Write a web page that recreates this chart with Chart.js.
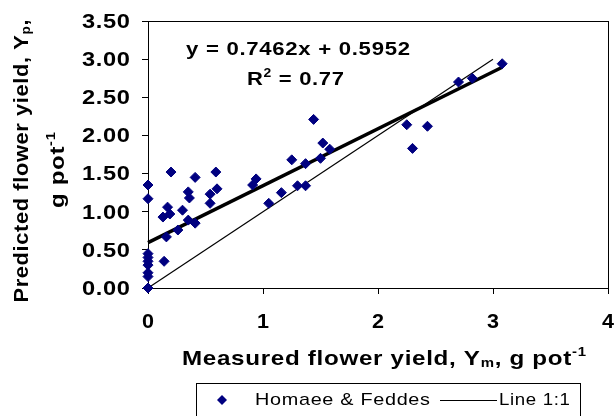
<!DOCTYPE html>
<html>
<head>
<meta charset="utf-8">
<script src="https://cdn.jsdelivr.net/npm/chart.js@4.4.1/dist/chart.umd.min.js"></script>
<style>
html,body{margin:0;padding:0;background:#fff;}
#wrap{width:614px;height:416px;position:relative;}
</style>
</head>
<body>
<div id="wrap"><canvas id="c" width="614" height="416"></canvas></div>
<script>
// ---- data ----
const measured  = [0,0,0,0,0,0,0,0,0, 0.14,0.16,0.13,0.17,0.19,0.20,0.26,0.30,0.35,0.41,0.35,0.36,0.41,0.54,0.54,0.59,0.60,0.91,0.94,1.05,1.16,1.25,1.30,1.37,1.37,1.50,1.44,1.52,1.58,2.25,2.30,2.43,2.70,2.82,3.08];
const predicted = [0,0.15,0.20,0.30,0.35,0.40,0.45,1.17,1.35, 0.35,0.67,0.93,1.06,0.97,1.52,0.76,1.02,0.89,0.85,1.26,1.18,1.45,1.23,1.11,1.52,1.30,1.35,1.43,1.11,1.25,1.68,1.34,1.34,1.63,1.70,2.21,1.90,1.82,2.14,1.83,2.12,2.70,2.75,2.94];
const fitSlope = 0.7462;
const fitIntercept = 0.5952;
const fitRange = [0, 3.08];
const oneToOneRange = [0, 3];
const xTicks = [0,1,2,3,4];
const yTicks = [0,0.5,1,1.5,2,2.5,3,3.5];
const seriesName = 'Homaee & Feddes';
const lineName = 'Line 1:1';

const fitData = fitRange.map(x => ({x: x, y: fitSlope * x + fitIntercept}));
const oneData = oneToOneRange.map(x => ({x: x, y: x}));
const pts = measured.map((x, i) => ({x: x, y: predicted[i]}));

const NAVY = '#000080';
const FONT = '"Liberation Sans", Arial, sans-serif';
const LS = 0.6; // small letter spacing

function runsNatural(ctx, runs) {
  let w = 0, n = 0;
  ctx.letterSpacing = LS + 'px';
  for (const r of runs) { ctx.font = r.font; w += ctx.measureText(r.t).width; n += [...r.t].length; }
  return w - LS;
}
// draw runs at (x,y) baseline, stretched along the text direction to a target width
function drawRuns(ctx, runs, x, y, target, align) {
  const nat = runsNatural(ctx, runs);
  const sx = target ? target / nat : 1;
  const total = nat * sx;
  let cx = x;
  if (align === 'center') cx = x - total / 2;
  else if (align === 'right') cx = x - total;
  ctx.save();
  ctx.translate(cx, y);
  ctx.scale(sx, 1);
  ctx.letterSpacing = LS + 'px';
  let px = 0;
  for (const r of runs) {
    ctx.font = r.font;
    ctx.fillText(r.t, px, (r.dy || 0));
    px += ctx.measureText(r.t).width;
  }
  ctx.restore();
}

const textPlugin = {
  id: 'texts',
  beforeDatasetsDraw(chart) {
    const ctx = chart.ctx, a = chart.chartArea;
    ctx.save();
    ctx.strokeStyle = '#000';
    ctx.lineWidth = 1;
    ctx.strokeRect(Math.round(a.left) + 0.5, Math.round(a.top) + 0.5, Math.round(a.right - a.left), Math.round(a.bottom - a.top));
    ctx.restore();
  },
  afterDraw(chart) {
    const ctx = chart.ctx;
    const xs = chart.scales.x, ys = chart.scales.y;
    ctx.save();
    ctx.fillStyle = '#000';
    ctx.textBaseline = 'middle';
    const B = s => 'bold ' + s + 'px ' + FONT;
    const R = s => s + 'px ' + FONT;
    // y tick labels
    for (const v of yTicks) {
      drawRuns(ctx, [{t: v.toFixed(2), font: B(21)}], 130, ys.getPixelForValue(v) + 1, 48, 'right');
    }
    // x tick labels
    for (const v of xTicks) {
      drawRuns(ctx, [{t: String(v), font: B(21)}], xs.getPixelForValue(v), 322, 12, 'center');
    }
    ctx.textBaseline = 'alphabetic';
    // x title
    drawRuns(ctx, [
      {t: 'Measured flower yield, Y', font: B(21)},
      {t: 'm', font: B(13), dy: 2},
      {t: ', g pot', font: B(21)},
      {t: '-1', font: B(13), dy: -9}
    ], 182, 365, 404, 'left');
    // y title (rotated)
    ctx.save();
    ctx.translate(28, 161);
    ctx.rotate(-Math.PI / 2);
    drawRuns(ctx, [
      {t: 'Predicted flower yield, Y', font: B(21)},
      {t: 'p', font: B(13), dy: 2},
      {t: ',', font: B(21)}
    ], 0, 0, 283, 'center');
    ctx.restore();
    ctx.save();
    ctx.translate(64, 170);
    ctx.rotate(-Math.PI / 2);
    drawRuns(ctx, [
      {t: 'g pot', font: B(21)},
      {t: '-1', font: B(13), dy: -9}
    ], 0, 0, 76, 'center');
    ctx.restore();
    // equation
    drawRuns(ctx, [{t: 'y = ' + fitSlope.toFixed(4) + 'x + ' + fitIntercept.toFixed(4), font: B(19)}], 186, 55, 224, 'left');
    drawRuns(ctx, [
      {t: 'R', font: B(19)},
      {t: '2', font: B(12), dy: -8},
      {t: ' = 0.77', font: B(19)}
    ], 247, 85, 97, 'left');
    // legend
    ctx.strokeStyle = '#000';
    ctx.lineWidth = 1;
    ctx.strokeRect(196.5, 383.5, 384, 40);
    ctx.fillStyle = NAVY;
    ctx.beginPath();
    ctx.moveTo(222, 395); ctx.lineTo(227, 400); ctx.lineTo(222, 405); ctx.lineTo(217, 400); ctx.closePath();
    ctx.fill();
    ctx.fillStyle = '#000';
    ctx.textBaseline = 'middle';
    drawRuns(ctx, [{t: seriesName, font: R(17)}], 255, 400, 175, 'left');
    ctx.beginPath();
    ctx.moveTo(440, 400.5); ctx.lineTo(497, 400.5); ctx.stroke();
    drawRuns(ctx, [{t: lineName, font: R(17)}], 499, 400, 71, 'left');
    ctx.restore();
  }
};

new Chart(document.getElementById('c'), {
  type: 'scatter',
  data: {
    datasets: [
      {label: seriesName, data: pts, pointStyle: 'rectRot', radius: 5, pointRadius: 5, borderWidth: 1,
       backgroundColor: NAVY, borderColor: NAVY, showLine: false, clip: false, order: 0},
      {label: 'fit', data: fitData, showLine: true, borderColor: '#000', borderWidth: 3.5, pointRadius: 0, clip: false, order: 1},
      {label: lineName, data: oneData, showLine: true, borderColor: '#000', borderWidth: 1.2, pointRadius: 0, clip: false, order: 2}
    ]
  },
  options: {
    responsive: false,
    animation: false,
    devicePixelRatio: 1,
    layout: {padding: {left: 0, top: 21, right: 3, bottom: 0}},
    plugins: {legend: {display: false}, tooltip: {enabled: false}},
    scales: {
      x: {
        type: 'linear', min: 0, max: 4,
        afterBuildTicks: s => { s.ticks = xTicks.map(v => ({value: v})); },
        ticks: {display: false},
        grid: {display: true, drawOnChartArea: false, drawTicks: true, tickLength: 6, color: '#000', lineWidth: 1},
        border: {display: false},
        afterFit: s => { s.height = 128; }
      },
      y: {
        type: 'linear', min: 0, max: 3.5,
        afterBuildTicks: s => { s.ticks = yTicks.map(v => ({value: v})); },
        ticks: {display: false},
        grid: {display: true, drawOnChartArea: false, drawTicks: true, tickLength: 6, color: '#000', lineWidth: 1},
        border: {display: false},
        afterFit: s => { s.width = 148; }
      }
    }
  },
  plugins: [textPlugin]
});
</script>
</body>
</html>
